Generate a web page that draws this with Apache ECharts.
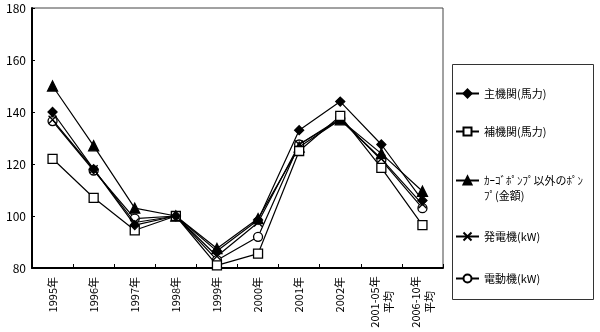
<!DOCTYPE html>
<html>
<head>
<meta charset="utf-8">
<script src="https://cdn.jsdelivr.net/npm/echarts@6/dist/echarts.min.js"></script>
<style>
  html, body { margin: 0; padding: 0; background: #fff; }
  #chart { width: 600px; height: 332px; }
</style>
</head>
<body>
<div id="chart"></div>
<script>
// Category labels (two-line labels use the "t" rich style so both lines centre)
const categories = ['1995年', '1996年', '1997年', '1998年', '1999年', '2000年', '2001年', '2002年', '2001-05年\n平均', '2006-10年\n平均'];

// Index values, 1998 = 100
const mainEngine = [140, 118, 96.5, 100, 86.5, 98.5, 133, 144, 127.5, 106];
const auxEngine  = [122, 107, 94.5, 100, 81, 85.5, 125, 138.5, 118.5, 96.5];
const pumps      = [150, 127, 103, 100, 87.5, 99, 126.5, 137, 124, 109.5];
const generator  = [137, 118, 97.5, 100, 84.5, 97.5, 127.5, 137, 122, 104.5];
const motor      = [136.5, 117.5, 99, 100, 83, 92, 127.5, 137.5, 121.5, 103];

const seriesNames = ['主機関(馬力)', '補機関(馬力)', 'ｶｰｺﾞﾎﾟﾝﾌﾟ以外のﾎﾟﾝ\nﾌﾟ(金額)', '発電機(kW)', '電動機(kW)'];

const yMin = 80, yMax = 180, yStep = 20;

const FONT = '"Noto Sans CJK JP", "Noto Sans", sans-serif';
const crossPath = 'path://M0,0L10,10M10,0L0,10';

const styles = [
  { symbol: 'diamond', symbolSize: 9, fill: '#000' },
  { symbol: 'rect', symbolSize: 9, fill: '#fff' },
  { symbol: 'triangle', symbolSize: 10, fill: '#000' },
  { symbol: crossPath, symbolSize: 8, fill: 'none' },
  { symbol: 'circle', symbolSize: 9, fill: '#fff' }
];
const values = [mainEngine, auxEngine, pumps, generator, motor];

const series = values.map((data, i) => ({
  name: seriesNames[i],
  type: 'line',
  data: data,
  symbol: styles[i].symbol,
  symbolSize: styles[i].symbolSize,
  showAllSymbol: true,
  z: 10 - i,
  lineStyle: { color: '#000', width: 1.2 },
  itemStyle: { color: styles[i].fill, borderColor: '#000', borderWidth: 1.3 },
  emphasis: { disabled: true },
  animation: false
}));

// One legend block per item so the wrapped name keeps its own spacing;
// the wrapped name gets an empty leading line so its icon sits on the first text line
const legendTops = [81, 119, 153, 224, 266];
const legends = seriesNames.map((n, i) => ({
  data: [n],
  left: 450,
  top: legendTops[i],
  orient: 'vertical',
  itemWidth: 23,
  itemHeight: 10,
  itemGap: 4,
  selectedMode: false,
  formatter: name => name.indexOf('\n') >= 0 ? '\n' + name : name,
  textStyle: { fontFamily: FONT, fontSize: 11, color: '#000', lineHeight: 15 }
}));

const chart = echarts.init(document.getElementById('chart'), null, { renderer: 'canvas' });
chart.setOption({
  animation: false,
  backgroundColor: '#fff',
  grid: {
    left: 32, top: 8, right: 157, bottom: 64,
    show: true, borderColor: '#444', borderWidth: 1, backgroundColor: 'transparent'
  },
  legend: legends,
  graphic: [{
    type: 'rect',
    shape: { x: 452.5, y: 64.5, width: 141, height: 235 },
    style: { fill: 'none', stroke: '#333', lineWidth: 1 },
    silent: true
  }],
  xAxis: {
    type: 'category',
    data: categories,
    boundaryGap: true,
    axisLine: { lineStyle: { color: '#000', width: 2 } },
    axisTick: { show: true, inside: true, length: 4, alignWithLabel: false, lineStyle: { color: '#000' } },
    axisLabel: {
      rotate: 90,
      interval: 0,
      margin: 9,
      fontFamily: FONT,
      fontSize: 11,
      color: '#000',
      lineHeight: 14,
      formatter: v => v.indexOf('\n') >= 0 ? v.split('\n').map(s => '{t|' + s + '}').join('\n') : v,
      rich: { t: { width: 50, align: 'center', fontFamily: FONT, fontSize: 11, color: '#000', lineHeight: 14 } }
    },
    splitLine: { show: false }
  },
  yAxis: {
    type: 'value',
    min: yMin, max: yMax, interval: yStep,
    axisLine: { show: true, lineStyle: { color: '#000', width: 2 } },
    axisTick: { show: true, inside: true, length: 3, lineStyle: { color: '#000' } },
    axisLabel: { fontFamily: FONT, fontSize: 12, color: '#000', margin: 6 },
    splitLine: { show: false }
  },
  series: series
});
</script>
</body>
</html>
